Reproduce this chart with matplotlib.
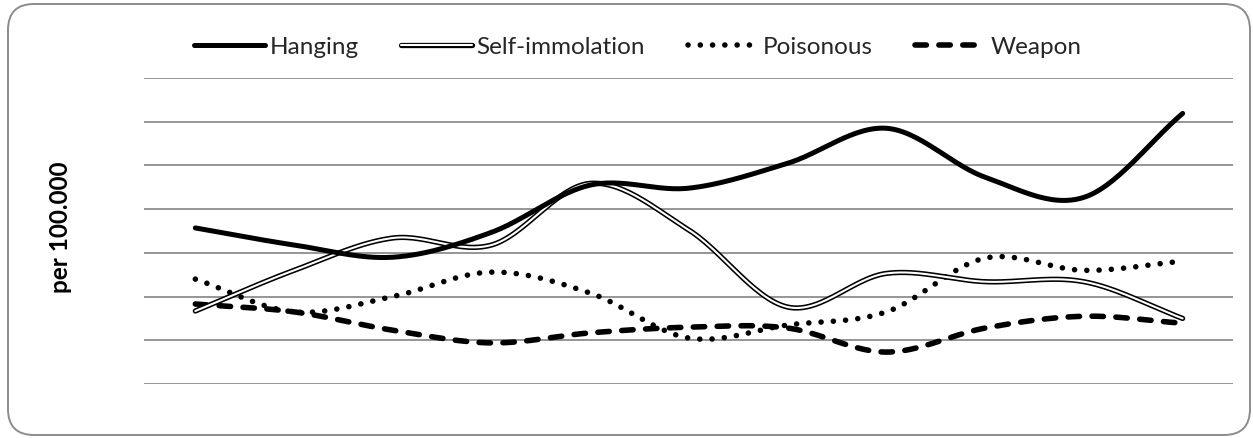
import numpy as np
import matplotlib.pyplot as plt
from matplotlib.patches import FancyBboxPatch
from matplotlib.lines import Line2D

plt.rcParams['font.family'] = ['Lato', 'DejaVu Sans']

# values (units = one gridline step)
points = list(range(11))
hanging = [3.57, 3.18, 2.90, 3.47, 4.55, 4.48, 5.05, 5.85, 4.73, 4.27, 6.19]
self_immolation = [1.67, 2.60, 3.34, 3.18, 4.59, 3.52, 1.76, 2.53, 2.34, 2.34, 1.50]
poisonous = [2.40, 1.65, 2.00, 2.56, 2.08, 1.05, 1.35, 1.65, 2.88, 2.60, 2.81]
weapon = [1.83, 1.65, 1.23, 0.94, 1.17, 1.30, 1.28, 0.73, 1.28, 1.55, 1.39]

dotted = (0, (0.01, 2.2))
dashed = (0, (2.05, 2.25))


def smooth(x, y, n=30):
    # catmull-rom through the points, like a spreadsheet "smoothed line"
    x = np.asarray(x, float)
    y = np.asarray(y, float)
    px = np.concatenate([[2 * x[0] - x[1]], x, [2 * x[-1] - x[-2]]])
    py = np.concatenate([[2 * y[0] - y[1]], y, [2 * y[-1] - y[-2]]])
    xs, ys = [], []
    t = np.linspace(0, 1, n, endpoint=False)
    for i in range(1, len(px) - 2):
        for arr, out in ((px, xs), (py, ys)):
            p0, p1, p2, p3 = arr[i - 1], arr[i], arr[i + 1], arr[i + 2]
            out.extend(0.5 * (2 * p1 + (-p0 + p2) * t
                              + (2 * p0 - 5 * p1 + 4 * p2 - p3) * t ** 2
                              + (-p0 + 3 * p1 - 3 * p2 + p3) * t ** 3))
    xs.append(x[-1])
    ys.append(y[-1])
    return np.array(xs), np.array(ys)


fig = plt.figure(figsize=(12.53, 4.38), dpi=100)
# rounded chart border, in pixels
fig.patches.append(FancyBboxPatch((8, 3), 1242, 431,
                                  boxstyle="round,pad=0,rounding_size=26",
                                  transform=None, facecolor='white',
                                  edgecolor='#8c8c8c', linewidth=1.4, zorder=-5))
ax = fig.add_axes([144 / 1253, 1 - 384 / 438, (1233 - 144) / 1253, (384 - 78) / 438])
ax.set_facecolor('none')

ax.set_xlim(-0.52, 10.51)
ax.set_ylim(0, 7)
ax.set_yticks(range(8))
ax.set_xticks([])
ax.tick_params(left=False, labelleft=False)
ax.grid(axis='y', color='#969696', linewidth=1.4)
ax.set_axisbelow(True)
for s in ax.spines.values():
    s.set_visible(False)

xs, ys = smooth(points, hanging)
ax.plot(xs, ys, color='black', lw=3.6, solid_capstyle='round', zorder=5)

xs, ys = smooth(points, self_immolation)
ax.plot(xs, ys, color='black', lw=3.8, solid_capstyle='round', zorder=4)
ax.plot(xs, ys, color='white', lw=1.5, solid_capstyle='round', zorder=4)

xs, ys = smooth(points, poisonous)
ax.plot(xs, ys, color='black', lw=4.0, linestyle=dotted,
        dash_capstyle='round', zorder=3)

xs, ys = smooth(points, weapon)
ax.plot(xs, ys, color='black', lw=4.0, linestyle=dashed,
        dash_capstyle='round', zorder=3)

fig.text(60 / 1253, 1 - 227 / 438, 'per 100.000', rotation=90, ha='center',
         va='center', fontsize=17.5, fontweight='bold')

handles = [
    Line2D([], [], color='black', lw=3.6, solid_capstyle='round'),
    (Line2D([], [], color='black', lw=3.8, solid_capstyle='round'),
     Line2D([], [], color='white', lw=1.5, solid_capstyle='round')),
    Line2D([], [], color='black', lw=4.0, linestyle=dotted, dash_capstyle='round'),
    Line2D([], [], color='black', lw=4.0, linestyle=dashed, dash_capstyle='round'),
]
labels = ['Hanging', 'Self-immolation', 'Poisonous', 'Weapon']
leg = fig.legend(handles, labels, loc='center', bbox_to_anchor=(638 / 1253, 1 - 47 / 438),
                 ncol=4, frameon=False, fontsize=17.5, handlelength=2.9,
                 handletextpad=0.2, columnspacing=1.75, borderpad=0, borderaxespad=0)
for txt in leg.get_texts():
    txt.set_color('#262626')

plt.savefig('out.png', dpi=100)
